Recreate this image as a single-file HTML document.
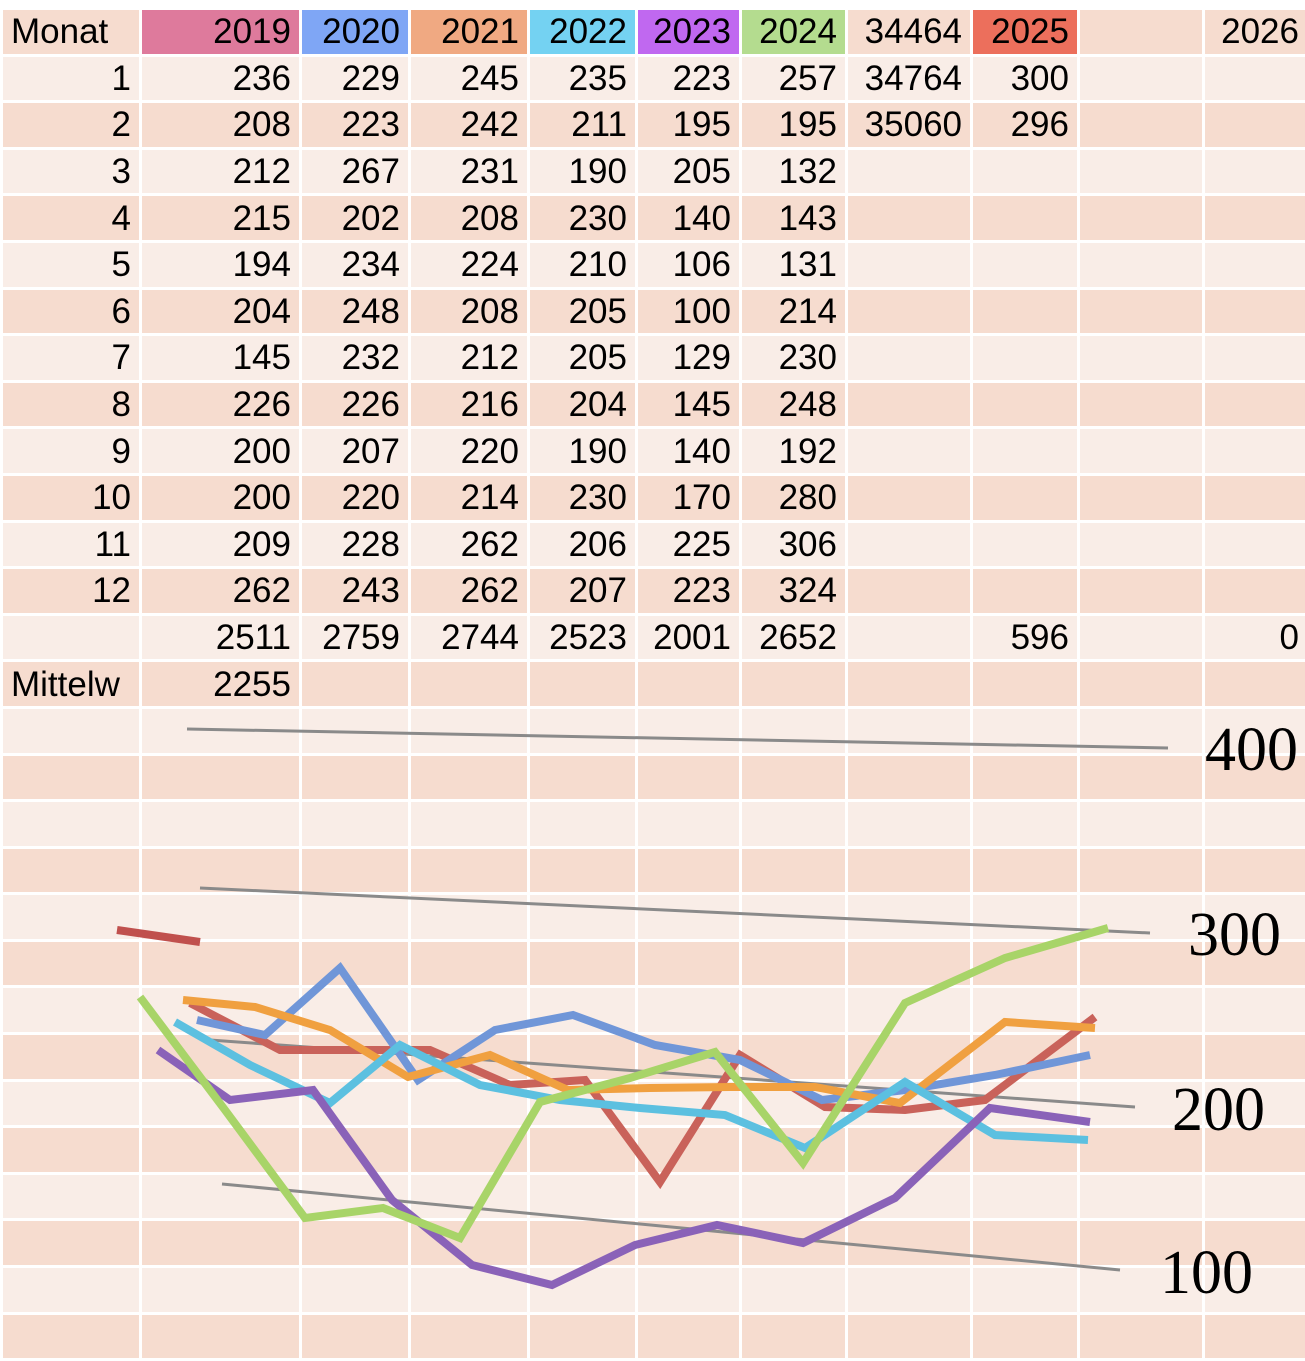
<!DOCTYPE html>
<html><head><meta charset="utf-8"><style>
html,body{margin:0;padding:0;background:#fff;width:1305px;height:1318px;overflow:hidden}
table{position:absolute;left:0;top:7px;width:1310px;border-collapse:separate;border-spacing:3px;table-layout:fixed;font-family:"Liberation Sans",sans-serif;font-size:35px;color:#000}
td{height:43.6px;padding:0 8px 0 8px;text-align:right;line-height:43px;white-space:nowrap;overflow:hidden;box-sizing:border-box}
tr:nth-child(odd) td{background:#f6dccf}
tr:nth-child(even) td{background:#f9ede7}
td.l{text-align:left}
svg{position:absolute;left:0;top:0}
</style></head><body>
<table>
<colgroup><col style="width:136px"><col style="width:157px"><col style="width:106px"><col style="width:116px"><col style="width:105px"><col style="width:101px"><col style="width:103px"><col style="width:122px"><col style="width:104px"><col style="width:122px"><col style="width:102px"></colgroup>
<tr><td class="l">Monat</td><td style="background:#de7a9c">2019</td><td style="background:#7fa6f5">2020</td><td style="background:#f0a982">2021</td><td style="background:#74d2f2">2022</td><td style="background:#c068f0">2023</td><td style="background:#b4dc8f">2024</td><td>34464</td><td style="background:#ec6f5c">2025</td><td></td><td>2026</td></tr>
<tr><td>1</td><td>236</td><td>229</td><td>245</td><td>235</td><td>223</td><td>257</td><td>34764</td><td>300</td><td></td><td></td></tr>
<tr><td>2</td><td>208</td><td>223</td><td>242</td><td>211</td><td>195</td><td>195</td><td>35060</td><td>296</td><td></td><td></td></tr>
<tr><td>3</td><td>212</td><td>267</td><td>231</td><td>190</td><td>205</td><td>132</td><td></td><td></td><td></td><td></td></tr>
<tr><td>4</td><td>215</td><td>202</td><td>208</td><td>230</td><td>140</td><td>143</td><td></td><td></td><td></td><td></td></tr>
<tr><td>5</td><td>194</td><td>234</td><td>224</td><td>210</td><td>106</td><td>131</td><td></td><td></td><td></td><td></td></tr>
<tr><td>6</td><td>204</td><td>248</td><td>208</td><td>205</td><td>100</td><td>214</td><td></td><td></td><td></td><td></td></tr>
<tr><td>7</td><td>145</td><td>232</td><td>212</td><td>205</td><td>129</td><td>230</td><td></td><td></td><td></td><td></td></tr>
<tr><td>8</td><td>226</td><td>226</td><td>216</td><td>204</td><td>145</td><td>248</td><td></td><td></td><td></td><td></td></tr>
<tr><td>9</td><td>200</td><td>207</td><td>220</td><td>190</td><td>140</td><td>192</td><td></td><td></td><td></td><td></td></tr>
<tr><td>10</td><td>200</td><td>220</td><td>214</td><td>230</td><td>170</td><td>280</td><td></td><td></td><td></td><td></td></tr>
<tr><td>11</td><td>209</td><td>228</td><td>262</td><td>206</td><td>225</td><td>306</td><td></td><td></td><td></td><td></td></tr>
<tr><td>12</td><td>262</td><td>243</td><td>262</td><td>207</td><td>223</td><td>324</td><td></td><td></td><td></td><td></td></tr>
<tr><td></td><td>2511</td><td>2759</td><td>2744</td><td>2523</td><td>2001</td><td>2652</td><td></td><td>596</td><td></td><td>0</td></tr>
<tr><td class="l">Mittelw</td><td>2255</td><td></td><td></td><td></td><td></td><td></td><td></td><td></td><td></td><td></td></tr>
<tr><td></td><td></td><td></td><td></td><td></td><td></td><td></td><td></td><td></td><td></td><td></td></tr>
<tr><td></td><td></td><td></td><td></td><td></td><td></td><td></td><td></td><td></td><td></td><td></td></tr>
<tr><td></td><td></td><td></td><td></td><td></td><td></td><td></td><td></td><td></td><td></td><td></td></tr>
<tr><td></td><td></td><td></td><td></td><td></td><td></td><td></td><td></td><td></td><td></td><td></td></tr>
<tr><td></td><td></td><td></td><td></td><td></td><td></td><td></td><td></td><td></td><td></td><td></td></tr>
<tr><td></td><td></td><td></td><td></td><td></td><td></td><td></td><td></td><td></td><td></td><td></td></tr>
<tr><td></td><td></td><td></td><td></td><td></td><td></td><td></td><td></td><td></td><td></td><td></td></tr>
<tr><td></td><td></td><td></td><td></td><td></td><td></td><td></td><td></td><td></td><td></td><td></td></tr>
<tr><td></td><td></td><td></td><td></td><td></td><td></td><td></td><td></td><td></td><td></td><td></td></tr>
<tr><td></td><td></td><td></td><td></td><td></td><td></td><td></td><td></td><td></td><td></td><td></td></tr>
<tr><td></td><td></td><td></td><td></td><td></td><td></td><td></td><td></td><td></td><td></td><td></td></tr>
<tr><td></td><td></td><td></td><td></td><td></td><td></td><td></td><td></td><td></td><td></td><td></td></tr>
<tr><td></td><td></td><td></td><td></td><td></td><td></td><td></td><td></td><td></td><td></td><td></td></tr>
<tr><td></td><td></td><td></td><td></td><td></td><td></td><td></td><td></td><td></td><td></td><td></td></tr>
</table>
<svg width="1305" height="1318" viewBox="0 0 1305 1318">
<g stroke="#8a8a8a" stroke-width="3" fill="none">
<line x1="187" y1="729" x2="1168" y2="748"/>
<line x1="200" y1="888" x2="1150" y2="933"/>
<line x1="210" y1="1040" x2="1135" y2="1107"/>
<line x1="222" y1="1184" x2="1120" y2="1270"/>
</g>
<g font-family="Liberation Serif, serif" font-size="62" fill="#000">
<text x="1205" y="770">400</text>
<text x="1188" y="955">300</text>
<text x="1172" y="1130">200</text>
<text x="1160" y="1293">100</text>
</g>
<g fill="none" stroke-width="8" stroke-linejoin="miter">
<polyline stroke="#c9625a" points="190,1003 280,1050 360,1050 430,1050 510,1085 585,1080 660,1182 740,1055 825,1107 905,1110 985,1100 1095,1017"/>
<polyline stroke="#7096d8" points="197,1020 265,1035 340,968 418,1080 495,1030 573,1015 655,1045 740,1060 822,1100 905,1090 995,1075 1090,1055"/>
<polyline stroke="#f0a040" points="183,1000 255,1007 330,1030 408,1077 490,1055 568,1090 650,1088 730,1087 815,1087 900,1103 1005,1022 1095,1028"/>
<polyline stroke="#5cc0e0" points="175,1022 250,1065 330,1103 400,1045 480,1085 560,1100 640,1108 725,1115 805,1148 905,1082 995,1135 1088,1140"/>
<polyline stroke="#8a62b8" points="158,1050 230,1100 313,1090 392,1200 472,1265 552,1285 635,1245 717,1225 803,1243 895,1198 990,1108 1090,1122"/>
<polyline stroke="#a8d468" points="140,997 225,1110 305,1218 383,1208 460,1238 540,1102 630,1078 715,1052 803,1163 905,1003 1005,958 1108,928"/>
<polyline stroke="#c0504d" points="117,930 200,942"/>
</g>
</svg>
</body></html>
